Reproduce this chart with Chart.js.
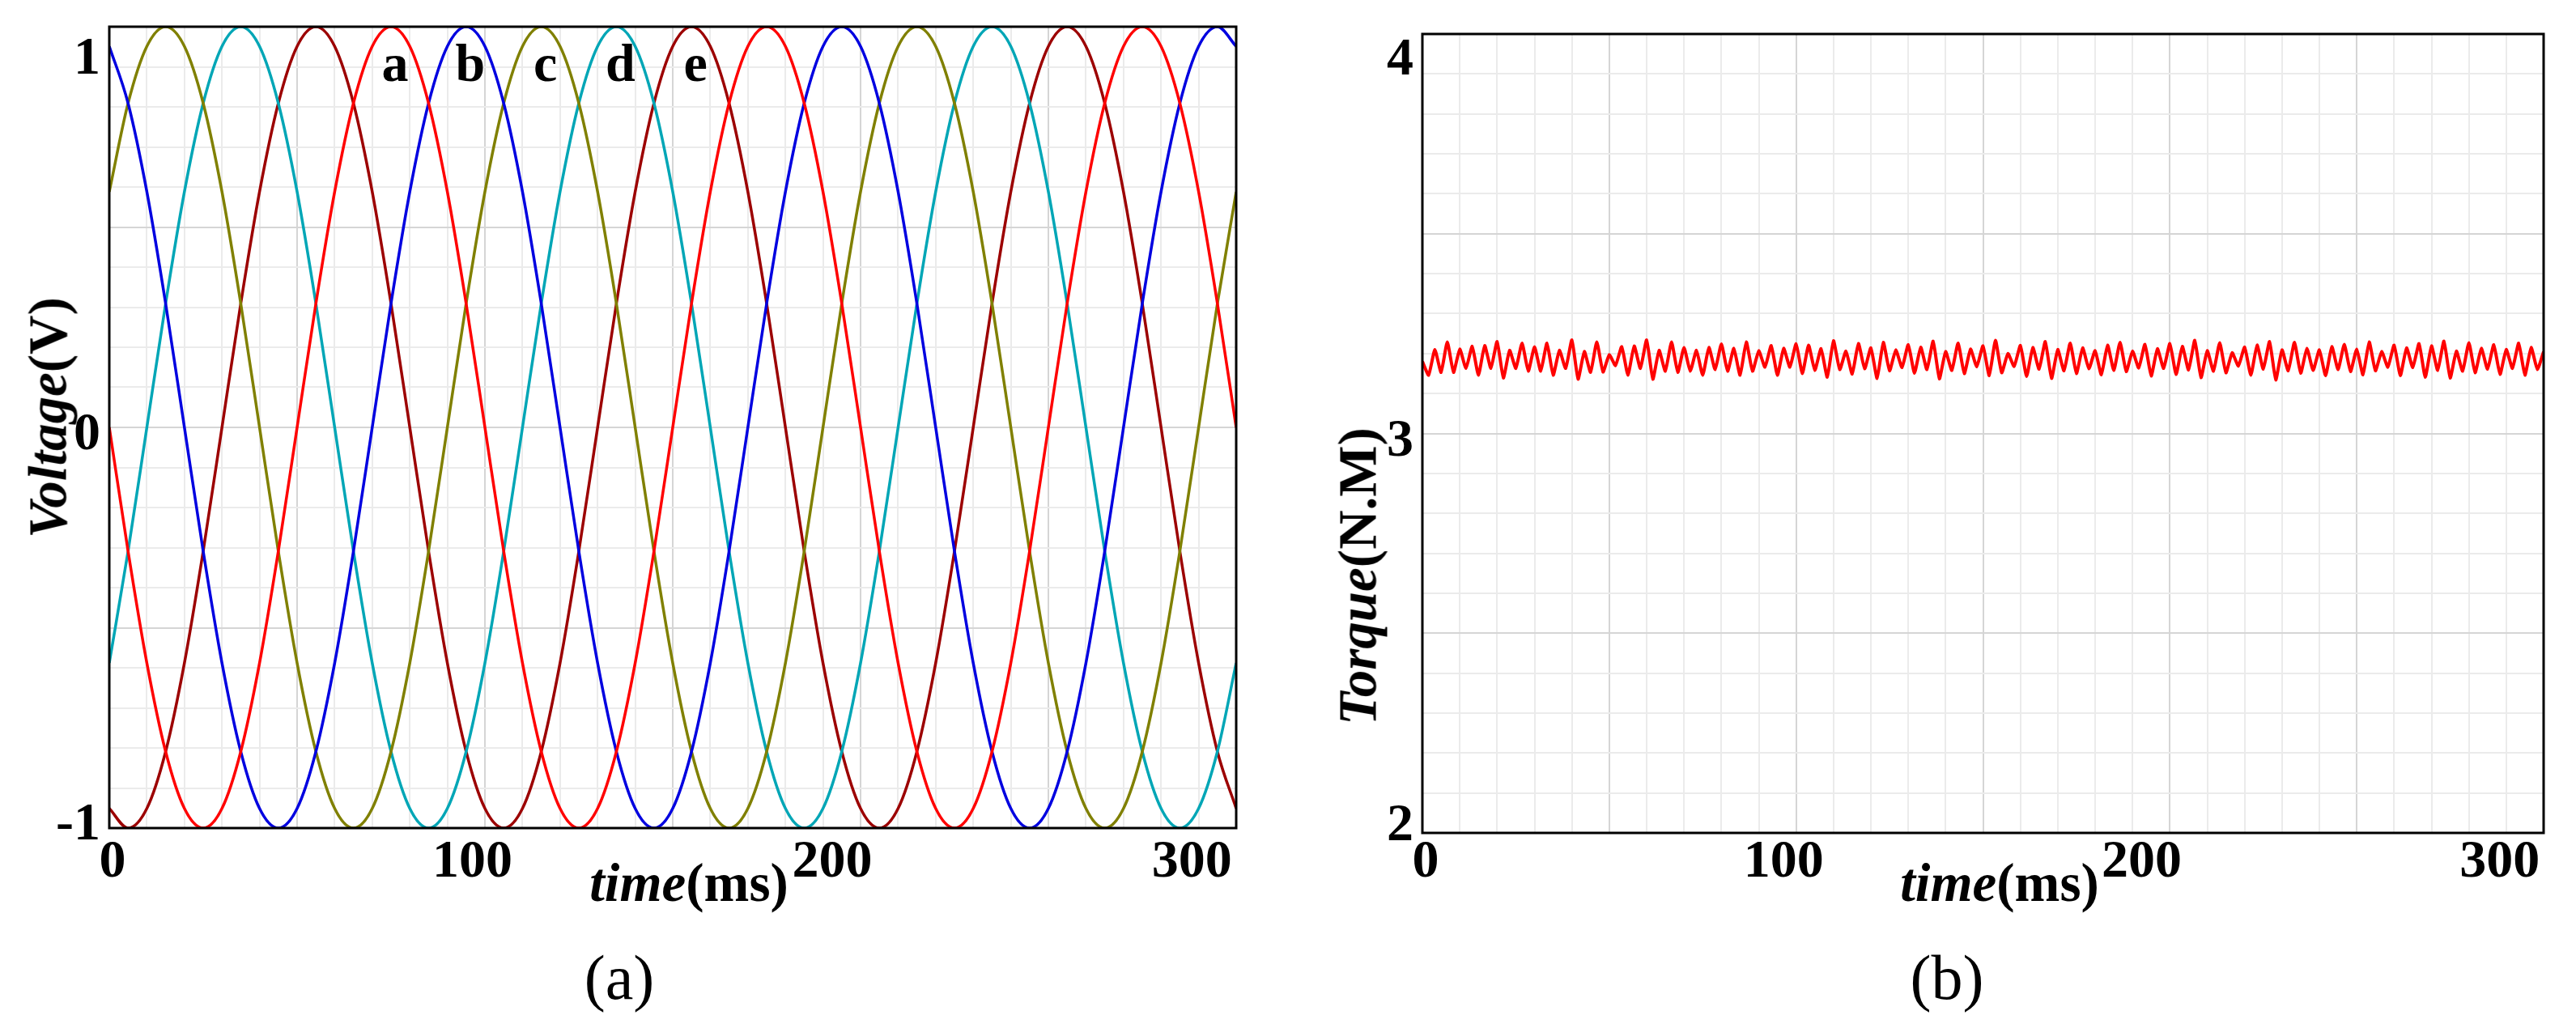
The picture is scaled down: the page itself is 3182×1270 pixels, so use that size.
<!DOCTYPE html>
<html>
<head>
<meta charset="utf-8">
<script src="https://cdn.jsdelivr.net/npm/chart.js@4.4.1/dist/chart.umd.min.js"></script>
<style>
  body { margin: 0; background: #fff; }
  #page { position: relative; width: 3182px; height: 1270px; overflow: hidden; background: #fff; }
  canvas { position: absolute; top: 0; }
  .ttl {
    position: absolute; white-space: nowrap; font-family: 'Liberation Serif', serif;
    font-weight: bold; font-size: 67px; line-height: 1; color: #000;
    transform: translate(-50%, -50%);
  }
  .ttl.rot { transform: translate(-50%, -50%) rotate(-90deg); }
  .panel {
    position: absolute; white-space: nowrap; font-family: 'Liberation Serif', serif;
    font-size: 78px; line-height: 1; color: #000; transform: translate(-50%, -50%);
  }
</style>
</head>
<body>
<div id="page">
  <canvas id="left" width="1600" height="1270" style="left:0"></canvas>
  <canvas id="right" width="1582" height="1270" style="left:1600px"></canvas>
  <div class="ttl rot" style="left:59px; top:516px"><i>Voltage</i>(V)</div>
  <div class="ttl" style="left:851px; top:1090px"><i>time</i>(ms)</div>
  <div class="panel" style="left:765px; top:1208px">(a)</div>
  <div class="ttl rot" style="left:1677px; top:712px"><i>Torque</i>(N.M)</div>
  <div class="ttl" style="left:2470px; top:1090px"><i>time</i>(ms)</div>
  <div class="panel" style="left:2405px; top:1208px">(b)</div>
</div>
<script>
// ---- (a) five phase voltages, sampled every 5.22 ms ----
const voltTime = [0, 5.22, 10.44, 15.66, 20.88, 26.1, 31.32, 36.54, 41.76, 46.98,
  52.2, 57.42, 62.64, 67.86, 73.08, 78.3, 83.52, 88.74, 93.96, 99.18,
  104.4, 109.62, 114.84, 120.06, 125.28, 130.5, 135.72, 140.94, 146.16, 151.38,
  156.6, 161.82, 167.04, 172.26, 177.48, 182.7, 187.92, 193.14, 198.36, 203.58,
  208.8, 214.02, 219.24, 224.46, 229.68, 234.9, 240.12, 245.34, 250.56, 255.78,
  261, 266.22, 271.44, 276.66, 281.88, 287.1, 292.32, 297.54, 302.76, 307.98, 313.2];

const phaseA = [0, -0.309, -0.588, -0.809, -0.951, -1, -0.951, -0.809, -0.588, -0.309,
  0, 0.309, 0.588, 0.809, 0.951, 1, 0.951, 0.809, 0.588, 0.309,
  0, -0.309, -0.588, -0.809, -0.951, -1, -0.951, -0.809, -0.588, -0.309,
  0, 0.309, 0.588, 0.809, 0.951, 1, 0.951, 0.809, 0.588, 0.309,
  0, -0.309, -0.588, -0.809, -0.951, -1, -0.951, -0.809, -0.588, -0.309,
  0, 0.309, 0.588, 0.809, 0.951, 1, 0.951, 0.809, 0.588, 0.309, 0];
const phaseB = [0.951, 0.809, 0.588, 0.309, 0, -0.309, -0.588, -0.809, -0.951, -1,
  -0.951, -0.809, -0.588, -0.309, 0, 0.309, 0.588, 0.809, 0.951, 1,
  0.951, 0.809, 0.588, 0.309, 0, -0.309, -0.588, -0.809, -0.951, -1,
  -0.951, -0.809, -0.588, -0.309, 0, 0.309, 0.588, 0.809, 0.951, 1,
  0.951, 0.809, 0.588, 0.309, 0, -0.309, -0.588, -0.809, -0.951, -1,
  -0.951, -0.809, -0.588, -0.309, 0, 0.309, 0.588, 0.809, 0.951, 1, 0.951];
const phaseC = [0.588, 0.809, 0.951, 1, 0.951, 0.809, 0.588, 0.309, 0, -0.309,
  -0.588, -0.809, -0.951, -1, -0.951, -0.809, -0.588, -0.309, 0, 0.309,
  0.588, 0.809, 0.951, 1, 0.951, 0.809, 0.588, 0.309, 0, -0.309,
  -0.588, -0.809, -0.951, -1, -0.951, -0.809, -0.588, -0.309, 0, 0.309,
  0.588, 0.809, 0.951, 1, 0.951, 0.809, 0.588, 0.309, 0, -0.309,
  -0.588, -0.809, -0.951, -1, -0.951, -0.809, -0.588, -0.309, 0, 0.309, 0.588];
const phaseD = [-0.588, -0.309, 0, 0.309, 0.588, 0.809, 0.951, 1, 0.951, 0.809,
  0.588, 0.309, 0, -0.309, -0.588, -0.809, -0.951, -1, -0.951, -0.809,
  -0.588, -0.309, 0, 0.309, 0.588, 0.809, 0.951, 1, 0.951, 0.809,
  0.588, 0.309, 0, -0.309, -0.588, -0.809, -0.951, -1, -0.951, -0.809,
  -0.588, -0.309, 0, 0.309, 0.588, 0.809, 0.951, 1, 0.951, 0.809,
  0.588, 0.309, 0, -0.309, -0.588, -0.809, -0.951, -1, -0.951, -0.809, -0.588];
const phaseE = [-0.951, -1, -0.951, -0.809, -0.588, -0.309, 0, 0.309, 0.588, 0.809,
  0.951, 1, 0.951, 0.809, 0.588, 0.309, 0, -0.309, -0.588, -0.809,
  -0.951, -1, -0.951, -0.809, -0.588, -0.309, 0, 0.309, 0.588, 0.809,
  0.951, 1, 0.951, 0.809, 0.588, 0.309, 0, -0.309, -0.588, -0.809,
  -0.951, -1, -0.951, -0.809, -0.588, -0.309, 0, 0.309, 0.588, 0.809,
  0.951, 1, 0.951, 0.809, 0.588, 0.309, 0, -0.309, -0.588, -0.809, -0.951];

const phaseNames = ['a', 'b', 'c', 'd', 'e'];
const phasePeakTime = [78.3, 99.18, 120.06, 140.94, 161.82];
const phaseColors = ['#ff0000', '#0000e0', '#808000', '#00a6b6', '#9c0000'];

// ---- (b) torque, sampled every 1.74 ms ----
const torqueTime = [0, 1.74, 3.48, 5.22, 6.96, 8.7, 10.44, 12.18, 13.92, 15.66,
  17.4, 19.14, 20.88, 22.62, 24.36, 26.1, 27.84, 29.58, 31.32, 33.06,
  34.8, 36.54, 38.28, 40.02, 41.76, 43.5, 45.24, 46.98, 48.72, 50.46,
  52.2, 53.94, 55.68, 57.42, 59.16, 60.9, 62.64, 64.38, 66.12, 67.86,
  69.6, 71.34, 73.08, 74.82, 76.56, 78.3, 80.04, 81.78, 83.52, 85.26,
  87, 88.74, 90.48, 92.22, 93.96, 95.7, 97.44, 99.18, 100.92, 102.66,
  104.4, 106.14, 107.88, 109.62, 111.36, 113.1, 114.84, 116.58, 118.32, 120.06,
  121.8, 123.54, 125.28, 127.02, 128.76, 130.5, 132.24, 133.98, 135.72, 137.46,
  139.2, 140.94, 142.68, 144.42, 146.16, 147.9, 149.64, 151.38, 153.12, 154.86,
  156.6, 158.34, 160.08, 161.82, 163.56, 165.3, 167.04, 168.78, 170.52, 172.26,
  174, 175.74, 177.48, 179.22, 180.96, 182.7, 184.44, 186.18, 187.92, 189.66,
  191.4, 193.14, 194.88, 196.62, 198.36, 200.1, 201.84, 203.58, 205.32, 207.06,
  208.8, 210.54, 212.28, 214.02, 215.76, 217.5, 219.24, 220.98, 222.72, 224.46,
  226.2, 227.94, 229.68, 231.42, 233.16, 234.9, 236.64, 238.38, 240.12, 241.86,
  243.6, 245.34, 247.08, 248.82, 250.56, 252.3, 254.04, 255.78, 257.52, 259.26,
  261, 262.74, 264.48, 266.22, 267.96, 269.7, 271.44, 273.18, 274.92, 276.66,
  278.4, 280.14, 281.88, 283.62, 285.36, 287.1, 288.84, 290.58, 292.32, 294.06,
  295.8, 297.54, 299.28, 301.02, 302.76, 304.5, 306.24, 307.98, 309.72, 311.46, 313.2];
const torque = [3.180, 3.146, 3.210, 3.153, 3.229, 3.153, 3.211, 3.163, 3.218, 3.146,
  3.220, 3.163, 3.230, 3.139, 3.208, 3.163, 3.226, 3.156, 3.217, 3.156,
  3.226, 3.146, 3.208, 3.163, 3.234, 3.136, 3.205, 3.153, 3.229, 3.154,
  3.197, 3.170, 3.217, 3.146, 3.219, 3.163, 3.234, 3.136, 3.208, 3.156,
  3.229, 3.153, 3.215, 3.156, 3.208, 3.146, 3.215, 3.160, 3.224, 3.156,
  3.213, 3.146, 3.229, 3.156, 3.207, 3.166, 3.220, 3.146, 3.213, 3.166,
  3.224, 3.150, 3.221, 3.158, 3.212, 3.141, 3.232, 3.160, 3.206, 3.149,
  3.225, 3.162, 3.214, 3.138, 3.228, 3.157, 3.209, 3.165, 3.222, 3.151,
  3.216, 3.160, 3.231, 3.137, 3.205, 3.158, 3.226, 3.150, 3.211, 3.167,
  3.219, 3.145, 3.233, 3.152, 3.200, 3.168, 3.220, 3.143, 3.215, 3.161,
  3.230, 3.138, 3.210, 3.157, 3.226, 3.150, 3.214, 3.162, 3.207, 3.147,
  3.221, 3.158, 3.228, 3.155, 3.206, 3.164, 3.223, 3.144, 3.212, 3.163,
  3.225, 3.148, 3.218, 3.159, 3.233, 3.140, 3.207, 3.156, 3.227, 3.152,
  3.202, 3.169, 3.216, 3.146, 3.221, 3.161, 3.230, 3.134, 3.209, 3.157,
  3.228, 3.151, 3.213, 3.158, 3.209, 3.145, 3.217, 3.160, 3.223, 3.155,
  3.211, 3.147, 3.229, 3.157, 3.205, 3.166, 3.221, 3.145, 3.214, 3.165,
  3.225, 3.141, 3.219, 3.158, 3.231, 3.139, 3.206, 3.156, 3.227, 3.152,
  3.213, 3.161, 3.222, 3.148, 3.210, 3.163, 3.226, 3.146, 3.215, 3.160, 3.205];

// ---- axes ----
const timeMax = 313.2;
const gridStepTime = 10.44;
const xTickValues = [0, 100, 200, 300];
const xTickLabels = ['0', '100', '200', '300'];
const voltTickValues = [-1, 0, 1];
const voltTickLabels = ['-1', '0', '1'];
const torqueTickValues = [2, 3, 4];
const torqueTickLabels = ['2', '3', '4'];

const GRID_MINOR = '#ebebeb';
const GRID_MAJOR = '#d5d5d5';
const TICK_FONT = 'bold 66px "Liberation Serif"';

// frame around the plot + tick labels + phase letters
const framePlugin = {
  id: 'frame',
  afterDatasetsDraw(chart, args, opts) {
    const { ctx, chartArea: a } = chart;
    ctx.save();
    ctx.strokeStyle = '#000';
    ctx.lineWidth = opts.lineWidth;
    ctx.strokeRect(a.left, a.top, a.right - a.left, a.bottom - a.top);
    ctx.restore();
  },
  afterDraw(chart, args, opts) {
    const { ctx, chartArea: a, scales } = chart;
    ctx.save();
    ctx.fillStyle = '#000';
    ctx.font = TICK_FONT;
    ctx.textBaseline = 'alphabetic';
    ctx.textAlign = 'right';
    opts.yValues.forEach((v, i) => {
      let cy = scales.y.getPixelForValue(v) + 5;
      cy = Math.min(Math.max(cy, a.top + opts.topInset), a.bottom - opts.bottomInset);
      ctx.fillText(opts.yLabels[i], a.left - 11, cy + 22);
    });
    ctx.textAlign = 'center';
    opts.xValues.forEach((v, i) => {
      ctx.fillText(opts.xLabels[i], scales.x.getPixelForValue(v) + 4, a.bottom + opts.xGap);
    });
    (opts.notes || []).forEach((n) => {
      ctx.fillText(n.text, scales.x.getPixelForValue(n.x) + 5, scales.y.getPixelForValue(n.y));
    });
    ctx.restore();
  }
};

function gridScale(min, max, step) {
  return {
    type: 'linear', min: min, max: max,
    ticks: { display: false, stepSize: step },
    grid: {
      drawTicks: false,
      lineWidth: 2,
      color: (c) => (c.index % 5 === 0 ? GRID_MAJOR : GRID_MINOR)
    },
    border: { display: false }
  };
}

function pts(xs, ys) {
  return xs.map((x, i) => ({ x: x, y: ys[i] }));
}

const phaseSeries = [phaseA, phaseB, phaseC, phaseD, phaseE];

new Chart(document.getElementById('left'), {
  type: 'line',
  data: {
    datasets: phaseSeries.map((s, k) => ({
      label: phaseNames[k],
      data: pts(voltTime, s),
      borderColor: phaseColors[k],
      borderWidth: 3.5,
      pointRadius: 0,
      cubicInterpolationMode: 'monotone',
      fill: false
    }))
  },
  options: {
    responsive: false,
    animation: false,
    devicePixelRatio: 1,
    layout: { padding: { left: 135, right: 73, top: 33, bottom: 247 } },
    scales: {
      x: gridScale(0, timeMax, gridStepTime),
      y: gridScale(-1, 1, 0.1)
    },
    plugins: {
      legend: { display: false },
      tooltip: { enabled: false },
      frame: {
        lineWidth: 3,
        yValues: voltTickValues, yLabels: voltTickLabels,
        xValues: xTickValues, xLabels: xTickLabels,
        topInset: 36, bottomInset: 8, xGap: 60,
        notes: phaseNames.map((t, i) => ({ text: t, x: phasePeakTime[i], y: 0.865 }))
      }
    }
  },
  plugins: [framePlugin]
});

new Chart(document.getElementById('right'), {
  type: 'line',
  data: {
    datasets: [{
      label: 'Torque',
      data: pts(torqueTime, torque),
      borderColor: '#ff0000',
      borderWidth: 4,
      pointRadius: 0,
      tension: 0.15,
      fill: false
    }]
  },
  options: {
    responsive: false,
    animation: false,
    devicePixelRatio: 1,
    layout: { padding: { left: 157, right: 40, top: 42, bottom: 241 } },
    scales: {
      x: gridScale(0, timeMax, gridStepTime),
      y: gridScale(2, 4, 0.1)
    },
    plugins: {
      legend: { display: false },
      tooltip: { enabled: false },
      frame: {
        lineWidth: 3,
        yValues: torqueTickValues, yLabels: torqueTickLabels,
        xValues: xTickValues, xLabels: xTickLabels,
        topInset: 28, bottomInset: 13, xGap: 54
      }
    }
  },
  plugins: [framePlugin]
});
</script>
</body>
</html>
